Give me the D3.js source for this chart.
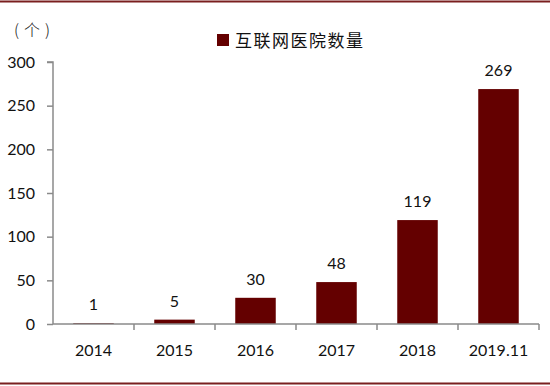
<!DOCTYPE html>
<html>
<head>
<meta charset="utf-8">
<script src="https://cdn.jsdelivr.net/npm/d3@7"></script>
<style>
  body { margin: 0; background: #fff; }
  .tick text { font-family: Lato, "Open Sans", sans-serif; font-size: 16px; fill: #111; }
</style>
</head>
<body>
<svg id="chart" width="550" height="386"></svg>
<script>
var categories = ["2014", "2015", "2016", "2017", "2018", "2019.11"];
var values = [1, 5, 30, 48, 119, 269];
var yTicks = [0, 50, 100, 150, 200, 250, 300];
var seriesName = "互联网医院数量";

var svg = d3.select("#chart"),
  margin = { top: 62, right: 11, bottom: 62, left: 53 },
  width = +svg.attr("width"),
  height = +svg.attr("height");

// frame lines top and bottom
svg.append("line").attr("x1", 0).attr("x2", width).attr("y1", 1.5).attr("y2", 1.5)
  .style("stroke", "#7a1f1f").style("stroke-width", 2);
svg.append("line").attr("x1", 0).attr("x2", width).attr("y1", 383.5).attr("y2", 383.5)
  .style("stroke", "#7a1f1f").style("stroke-width", 2);

var x = d3.scaleBand()
  .domain(categories)
  .range([margin.left, width - margin.right])
  .paddingInner(0.5)
  .paddingOuter(0.25);

var y = d3.scaleLinear()
  .domain([0, 300])
  .range([height - margin.bottom, margin.top]);

// bars
svg.selectAll(".bar")
  .data(values)
  .enter().append("rect")
  .attr("class", "bar")
  .attr("x", (d, i) => x(categories[i]))
  .attr("width", x.bandwidth())
  .attr("y", (d) => y(d))
  .attr("height", (d) => y(0) - y(d))
  .style("fill", "#640000");

// value labels
svg.selectAll(".val")
  .data(values)
  .enter().append("text")
  .attr("class", "val")
  .attr("x", (d, i) => x(categories[i]) + x.bandwidth() / 2)
  .attr("y", (d) => y(d) - 13)
  .attr("text-anchor", "middle")
  .style("font-family", "Lato, 'Open Sans', sans-serif")
  .style("font-size", "16px")
  .style("fill", "#111")
  .text((d) => d);

// y axis
var yAxis = svg.append("g")
  .attr("transform", "translate(" + margin.left + ",0)")
  .call(d3.axisLeft(y).tickValues(yTicks).tickSize(6).tickPadding(12));
yAxis.selectAll("path, line").style("stroke", "#8a8a8a").style("stroke-width", 1.5);
yAxis.select(".domain").attr("d", "M-6," + y(300) + "H0V" + y(0));

// x axis with ticks at the band boundaries
var boundary = d3.scaleLinear()
  .domain([0, categories.length])
  .range([margin.left, width - margin.right]);
var xAxis = svg.append("g")
  .attr("transform", "translate(0," + y(0) + ")");
xAxis.append("path")
  .attr("d", "M" + margin.left + ",0H" + (width - margin.right))
  .style("stroke", "#8a8a8a").style("stroke-width", 1.5).style("fill", "none");
xAxis.selectAll(".bt")
  .data(d3.range(1, categories.length + 1))
  .enter().append("line")
  .attr("class", "bt")
  .attr("x1", (d) => boundary(d)).attr("x2", (d) => boundary(d))
  .attr("y1", 0).attr("y2", 6)
  .style("stroke", "#8a8a8a").style("stroke-width", 1.5);
xAxis.selectAll(".xl")
  .data(categories)
  .enter().append("text")
  .attr("class", "xl")
  .attr("x", (d) => x(d) + x.bandwidth() / 2)
  .attr("y", 32)
  .attr("text-anchor", "middle")
  .style("font-family", "Lato, 'Open Sans', sans-serif")
  .style("font-size", "16px")
  .style("fill", "#111")
  .text((d) => d);

// unit label
svg.append("text")
  .attr("x", 14)
  .attr("y", 36)
  .style("font-family", "'Noto Sans CJK SC', sans-serif")
  .style("font-size", "16px")
  .style("font-weight", 300)
  .style("letter-spacing", "5px")
  .style("fill", "#111")
  .text("(个)");

// legend
svg.append("rect")
  .attr("x", 217).attr("y", 34).attr("width", 12).attr("height", 12)
  .style("fill", "#640000");
svg.append("text")
  .attr("x", 235)
  .attr("y", 47)
  .style("font-family", "'Noto Sans CJK SC', sans-serif")
  .style("font-size", "17px")
  .style("letter-spacing", "1.5px")
  .style("fill", "#111")
  .text(seriesName);
</script>
</body>
</html>
